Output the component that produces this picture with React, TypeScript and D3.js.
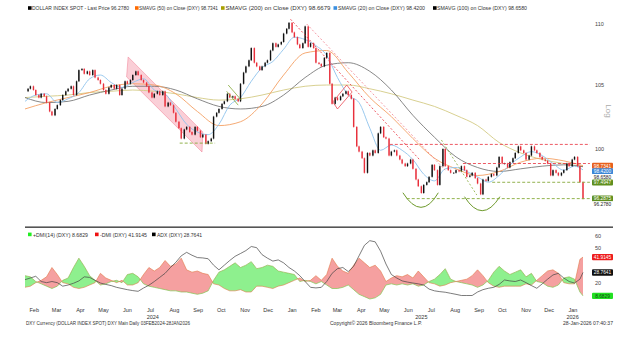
import React from 'react';
import * as d3 from 'd3';

// ---------- DATA ----------
const startDate = new Date(2024, 1, 3);
const endDate = new Date(2026, 0, 28);
const lineEnd = new Date(2026, 1, 6);

// DXY closes, sampled twice a week (every 3.5 days) from 03-Feb-2024
const closes = [
  104.5, 104.7, 104.9, 104.6, 104.2, 104.0, 104.3, 104.1, 103.6, 102.9,
  102.6, 103.1, 103.4, 103.8, 104.2, 104.5, 104.7, 104.9, 104.2, 105.3,
  106.2, 106.3, 105.9, 106.1, 105.8, 106.2, 105.6, 105.4, 105.1, 104.6,
  104.3, 104.8, 105.0, 104.7, 105.0, 104.2, 104.7, 105.3, 105.1, 105.4,
  105.8, 106.1, 105.8, 105.4, 105.2, 104.9, 104.4, 104.0, 104.3, 104.5,
  104.2, 104.5, 103.3, 103.6, 103.4, 102.8, 102.1, 101.6, 100.8, 101.5,
  101.7, 101.3, 101.1, 101.7, 101.4, 100.9, 101.1, 100.4, 100.6, 100.8,
  102.5, 102.8, 103.1, 103.5, 103.7, 104.3, 104.0, 104.1, 103.9, 103.7,
  105.1, 106.0, 106.5, 107.0, 108.0, 106.8, 106.5, 106.2, 106.5, 106.8,
  107.0, 107.8, 108.4, 108.1, 108.3, 108.5, 109.2, 109.6, 110.1, 109.3,
  108.9, 108.3, 108.0, 108.4, 109.8, 108.1, 108.4, 108.0, 106.8, 106.7,
  106.5, 107.2, 107.6, 105.1, 103.5, 104.0, 103.8, 104.1, 104.3, 104.5,
  104.2, 103.9, 101.7, 100.2, 99.8, 99.3, 98.2, 99.7, 99.5, 99.9,
  99.7, 101.2, 101.7, 100.9, 100.8, 99.5, 99.8, 99.9, 99.5, 99.2,
  98.9, 98.7, 98.9, 99.2, 98.5, 97.7, 97.2, 96.7, 97.3, 97.5,
  97.9, 98.8, 98.4, 97.3, 98.7, 100.0, 98.7, 98.4, 98.2, 98.2,
  98.4, 98.3, 98.7, 98.4, 97.9, 98.0, 98.2, 97.8, 97.4, 96.6,
  97.7, 97.6, 97.9, 98.1, 98.0, 98.6, 99.4, 98.9, 98.9, 98.6,
  99.0, 99.3, 99.7, 100.2, 99.9, 99.7, 99.2, 99.5, 100.2, 99.9,
  99.7, 99.4, 99.2, 99.1, 98.9, 98.0, 98.4, 98.2, 98.0, 98.2,
  98.4, 98.9, 98.7, 99.2, 99.4, 98.7, 97.5, 96.278,
];

// Moving averages (read every 28 days, last point 28-Jan-2026)
const sma200 = [104.0, 104.1, 104.2, 104.4, 104.5, 104.6, 104.5, 104.3, 104.0, 103.8, 103.9, 104.2, 104.6, 104.9, 105.0, 105.0, 104.7, 104.3, 103.8, 103.3, 102.6, 101.8, 100.5, 99.7, 99.2, 98.9, 98.6679];
const sma100 = [104.0, 103.6, 103.7, 104.2, 104.6, 104.9, 104.9, 104.6, 103.9, 103.3, 103.1, 103.3, 104.2, 105.6, 106.6, 106.8, 106.1, 104.6, 102.6, 100.9, 99.4, 98.6, 98.3, 98.5, 98.7, 98.8, 98.658];
const sma50 = [103.1, 103.6, 104.0, 104.4, 104.9, 105.1, 105.0, 104.3, 102.9, 101.8, 102.1, 103.5, 105.8, 107.6, 107.8, 106.0, 104.0, 102.5, 100.8, 99.3, 98.5, 98.0, 98.3, 99.0, 99.3, 99.1, 98.7341];
// SMA 20 (read every 14 days)
const sma20 = [103.7, 104.2, 104.3, 103.6, 103.9, 104.4, 105.5, 105.8, 105.2, 104.8, 105.2, 105.5, 104.6, 104.3, 103.1, 101.9, 101.3, 101.1, 101.9, 103.4, 104.0, 105.3, 106.4, 106.9, 107.9, 108.9, 108.7, 108.2, 107.4, 105.6, 104.2, 103.6, 101.6, 99.9, 100.3, 99.9, 99.2, 98.1, 97.6, 98.5, 98.6, 98.3, 97.9, 97.5, 98.0, 98.8, 99.4, 99.8, 99.5, 98.9, 98.4, 98.7, 98.42];

// DMI / ADX (weekly)
const plusDMI = [
  26, 25, 21, 19, 17, 15, 17, 22, 24, 33,
  41, 34, 26, 22, 18, 19, 21, 22, 20, 27,
  28, 25, 19, 17, 16, 15, 14, 13, 13, 12,
  12, 11, 10, 11, 13, 22, 29, 31, 34, 37,
  33, 35, 38, 32, 33, 35, 34, 30, 29, 28,
  27, 21, 22, 21, 19, 21, 18, 15, 15, 16,
  18, 14, 10, 8, 6, 7, 10, 18, 19, 18,
  19, 18, 19, 17, 18, 21, 23, 27, 32, 23,
  21, 20, 19, 18, 16, 18, 22, 29, 34, 30,
  27, 29, 31, 25, 28, 21, 20, 17, 16, 18,
  24, 25, 23, 12, 8.6829,
];
const minusDMI = [
  16, 17, 20, 22, 25, 33, 27, 20, 19, 16,
  15, 16, 18, 20, 28, 24, 22, 20, 22, 18,
  18, 20, 27, 33, 30, 33, 39, 34, 36, 41,
  31, 29, 30, 28, 27, 19, 18, 15, 13, 13,
  14, 12, 12, 17, 17, 16, 15, 17, 18, 20,
  22, 24, 21, 22, 26, 22, 27, 41, 34, 30,
  28, 35, 41, 37, 33, 35, 30, 21, 24, 26,
  25, 27, 24, 30, 25, 20, 19, 17, 18, 20,
  21, 22, 23, 26, 31, 26, 20, 17, 16, 17,
  17, 17, 17, 19, 18, 22, 26, 30, 31, 28,
  20, 19, 19, 40, 41.9145,
];
const adx = [
  22.6, 24, 25.5, 21, 20, 21, 20, 17, 18, 19.5,
  21.5, 25, 24.5, 22, 19.7, 18.5, 17.5, 16, 15, 14,
  13.2, 12.6, 15.4, 17.8, 21, 24.5, 28, 33, 37.5, 43,
  46, 43.5, 41.5, 41.2, 40.5, 35, 31, 35, 39, 42.6,
  45, 47.5, 51, 50, 44, 41, 38.5, 39.5, 37, 33,
  30, 26, 21, 16, 15.5, 16, 21, 28, 32, 33,
  29.5, 34, 43, 52, 56, 55, 47, 36, 27, 24,
  21.5, 20.5, 19.7, 19, 18, 14.5, 13, 12.3, 11.8, 10.9,
  10, 9, 9, 9, 12, 14, 15.2, 16, 18.5, 22.3,
  21.5, 21, 22.3, 20, 17.5, 15.2, 19, 23, 26.6, 28,
  24, 21, 19.7, 23, 28.7641,
];

const priceTicks = [100, 105, 110];
// 10, 30 and 40 are hidden behind the value boxes in the reference
const dmiTicks = [20, 50, 60];

const topLegend = [
  { color: '#000000', text: 'DOLLAR INDEX SPOT - Last Price 96.2780' },
  { color: '#ff6a00', text: 'SMAVG (50) on Close (DXY) 98.7341' },
  { color: '#a8a000', text: 'SMAVG (200) on Close (DXY) 98.6679' },
  { color: '#3b8fe0', text: 'SMAVG (20) on Close (DXY) 98.4200' },
  { color: '#000000', text: 'SMAVG (100) on Close (DXY) 98.6580' },
];
const lowLegend = [
  { color: '#22ee22', text: '+DMI(14) (DXY) 8.6829' },
  { color: '#ee1111', text: '-DMI (DXY) 41.9145' },
  { color: '#000000', text: 'ADX (DXY) 28.7641' },
];

// analyst drawings, in [date, value]
const pinkChannel: [string, number][] = [['2024-06-16', 107.27], ['2024-09-21', 101.31], ['2024-09-20', 99.77], ['2024-06-14', 105.65]];
const greenFlagA: [string, number][] = [['2024-10-24', 105.0], ['2024-11-10', 103.8]];
const greenFlagB: [string, number][] = [['2024-10-22', 104.5], ['2024-11-06', 103.4]];
const sepLow2024: [string, number][] = [['2024-08-22', 100.45], ['2024-10-07', 100.45]];
const redTrendA: [string, number][] = [['2025-01-13', 110.4], ['2025-06-30', 99.17]];
const redTrendB: [string, number][] = [['2025-02-03', 110.0], ['2025-08-02', 98.4]];
const redFlag: [string, number][] = [['2025-03-09', 103.65], ['2025-03-27', 105.0], ['2025-04-03', 104.44], ['2025-03-15', 103.1], ['2025-03-09', 103.65]];
const greenDown: [string, number][] = [['2025-07-28', 100.69], ['2025-09-12', 96.55]];
const arcs: [string, number][][] = [
  [['2025-06-08', 96.72], ['2025-07-02', 94.59], ['2025-07-24', 96.72]],
  [['2025-08-27', 96.43], ['2025-09-19', 94.39], ['2025-10-12', 96.43]],
];
const redLevels: [string, number][] = [['2025-05-22', 100.35], ['2025-08-25', 98.9]];
const greenLevels: [string, number][] = [['2025-10-02', 97.4947], ['2025-06-13', 96.2875]];

const priceBoxes = [
  { value: 98.7341, fill: '#e8601c', color: '#fff', text: '98.7341' },
  { value: 98.42, fill: '#3b86d6', color: '#fff', text: '98.4200' },
  { value: 98.658, fill: '#ffffff', color: '#222', text: '98.6580' },
  { value: 97.4947, fill: '#5f8f1e', color: '#fff', text: '97.4947' },
  { value: 96.2875, fill: '#5f8f1e', color: '#fff', text: '96.2875' },
  { value: 96.278, fill: '#ffffff', color: '#222', text: '96.2780' },
];
const dmiBoxes = [
  { value: 41.9145, fill: '#ee1c1c', color: '#fff', text: '41.9145' },
  { value: 28.7641, fill: '#111111', color: '#fff', text: '28.7641' },
  { value: 8.6829, fill: '#22e022', color: '#114411', text: '8.6829' },
];

// ---------- COMPONENT ----------
const parse = d3.timeParse('%Y-%m-%d');
const FONT = 'Liberation Sans, Arial, sans-serif';

export default function App() {
  const x = d3.scaleTime().domain([startDate, endDate]).range([25, 583]);
  const yP = d3.scaleLog().domain([100, 110]).range([149, 24]);
  const yD = d3.scaleLinear().domain([0, 60]).range([306, 236]);

  const priceDates = closes.map((_, i) => d3.timeDay.offset(startDate, Math.round(i * 3.5)));
  const d28 = [...d3.range(0, 701, 28), 725].map((d) => d3.timeDay.offset(startDate, d));
  const d14 = [...d3.range(0, 715, 14), 725].map((d) => d3.timeDay.offset(startDate, d));
  const d7 = [...d3.range(0, 722, 7), 725].map((d) => d3.timeDay.offset(startDate, d));

  const maPath = (dates: Date[], vals: number[]) =>
    d3.line<number>().x((_, i) => x(dates[i])).y((v) => yP(v)).curve(d3.curveMonotoneX)(vals) || '';

  const pt = (p: [string, number]) => [x(parse(p[0]) as Date), yP(p[1])] as [number, number];
  const polyPath = (pts: [string, number][]) => d3.line()(pts.map(pt)) || '';
  const arcPath = (a: [string, number][]) => {
    const [p0, c, p2] = a.map(pt);
    const path = d3.path();
    path.moveTo(p0[0], p0[1]);
    path.quadraticCurveTo(c[0], c[1], p2[0], p2[1]);
    return path.toString();
  };

  const dmi = d7.map((d, i) => ({ d, p: plusDMI[i], m: minusDMI[i], a: adx[i] }));
  type Dm = typeof dmi[number];
  const between = d3.area<Dm>().x((o) => x(o.d)).y0((o) => yD(o.p)).y1((o) => yD(o.m))(dmi) || '';
  const clipAbove = d3.area<Dm>().x((o) => x(o.d)).y0(229).y1((o) => yD(o.p))(dmi) || '';
  const clipBelow = d3.area<Dm>().x((o) => x(o.d)).y0((o) => yD(o.p)).y1(312)(dmi) || '';
  const dLine = (k: 'p' | 'm' | 'a') => d3.line<Dm>().x((o) => x(o.d)).y((o) => yD(o[k]))(dmi) || '';

  // month labels (centred mid-month) and year labels (centred on visible span)
  const months = d3.timeMonth.range(new Date(2024, 1, 1), new Date(2026, 1, 1));
  const years = [2024, 2025, 2026].map((yr) => {
    const a = yr === 2024 ? startDate : new Date(yr, 0, 1);
    const b = yr === 2026 ? endDate : new Date(yr, 11, 31);
    return { yr, cx: (x(a) + x(b)) / 2 };
  });

  // stack right-hand labels
  const stack = (items: { y: number }[], gap: number) => {
    let last = -Infinity;
    return items.map((it) => {
      const y = Math.max(it.y, last + gap);
      last = y;
      return y;
    });
  };
  const pbY = stack(priceBoxes.map((b) => ({ y: yP(b.value) })), 5.6);

  const topPos = [
    { sq: 28, tx: 32, len: 97 },
    { sq: 135, tx: 139, len: 79 },
    { sq: 221, tx: 225.5, len: 105 },
    { sq: 333.5, tx: 338, len: 87 },
    { sq: 433, tx: 437, len: 90 },
  ];
  const lowPos = [
    { sq: 28, tx: 33, len: 55 },
    { sq: 95, tx: 100, len: 47 },
    { sq: 152, tx: 157, len: 45 },
  ];

  const red = '#e8303c';
  const green = '#86a93a';

  return (
    <svg width={625} height={337} style={{ position: 'absolute', left: 0, top: 0, background: '#fff' }} fontFamily={FONT}>
      <defs>
        <clipPath id="clipAbove"><path d={clipAbove} /></clipPath>
        <clipPath id="clipBelow"><path d={clipBelow} /></clipPath>
      </defs>

      {/* top legend */}
      {topLegend.map((l, i) => (
        <g key={i}>
          <rect x={topPos[i].sq} y={6.2} width={3.6} height={3.6} fill={l.color} />
          <text x={topPos[i].tx} y={10} fontSize={5.2} fill="#333" textLength={topPos[i].len} lengthAdjust="spacingAndGlyphs">{l.text}</text>
        </g>
      ))}

      {/* price axis */}
      {priceTicks.map((t) => (
        <text key={t} x={595} y={yP(t) + 2} fontSize={5.5} fill="#444">{t}</text>
      ))}
      <text transform={`translate(606,111) rotate(90)`} fontSize={8} fill="#aaa" textAnchor="middle">Log</text>

      {/* annotations behind price */}
      <path d={polyPath(pinkChannel) + 'Z'} fill="#f6a7b7" fillOpacity={0.55} stroke="#f07a90" strokeWidth={0.5} />

      {/* moving averages */}
      <path d={maPath(d28, sma200)} fill="none" stroke="#d4cb84" strokeWidth={0.9} />
      <path d={maPath(d28, sma100)} fill="none" stroke="#6a6a6a" strokeWidth={0.8} />
      <path d={maPath(d28, sma50)} fill="none" stroke="#f4a064" strokeWidth={0.9} />
      <path d={maPath(d14, sma20)} fill="none" stroke="#8ec3ec" strokeWidth={0.9} />

      {/* candles */}
      {closes.map((c, i) => {
        if (i === 0) return null;
        const o = closes[i - 1];
        const y1 = yP(Math.max(o, c));
        const y2 = yP(Math.min(o, c));
        const cx = x(priceDates[i]);
        return (
          <g key={i}>
            <line x1={cx} x2={cx} y1={y1 - 0.8} y2={y2 + 0.8} stroke={c >= o ? '#111' : red} strokeWidth={0.5} />
            <rect x={cx - 0.7} y={y1} width={1.4} height={Math.max(0.7, y2 - y1)} fill={c >= o ? '#111' : red} />
          </g>
        );
      })}

      {/* drawings */}
      <path d={polyPath(sepLow2024)} stroke={green} strokeWidth={0.9} strokeDasharray="3,2" fill="none" />
      <path d={polyPath(greenFlagA)} stroke={green} strokeWidth={0.8} fill="none" />
      <path d={polyPath(greenFlagB)} stroke={green} strokeWidth={0.8} fill="none" />
      <path d={polyPath(redTrendA)} stroke={red} strokeWidth={0.8} strokeDasharray="2,2" fill="none" />
      <path d={polyPath(redTrendB)} stroke="#f07080" strokeWidth={0.7} strokeDasharray="2,2" fill="none" />
      <path d={polyPath(redFlag)} stroke={red} strokeWidth={0.7} fill="none" />
      <path d={polyPath(greenDown)} stroke={green} strokeWidth={0.8} strokeDasharray="2,2" fill="none" />
      {arcs.map((a, i) => (
        <path key={i} d={arcPath(a)} stroke="#6e9a2c" strokeWidth={1} fill="none" />
      ))}
      {redLevels.map((l, i) => (
        <line key={i} x1={x(parse(l[0]) as Date)} x2={x(lineEnd)} y1={yP(l[1])} y2={yP(l[1])} stroke={red} strokeWidth={0.8} strokeDasharray="3,2" />
      ))}
      {greenLevels.map((l, i) => (
        <line key={i} x1={x(parse(l[0]) as Date)} x2={x(lineEnd)} y1={yP(l[1])} y2={yP(l[1])} stroke={green} strokeWidth={0.9} strokeDasharray="3,2" />
      ))}

      {/* price right boxes */}
      {priceBoxes.map((b, i) => (
        <g key={i}>
          <rect x={592} y={pbY[i] - 3} width={21} height={6} rx={1} fill={b.fill} />
          <text x={602.5} y={pbY[i] + 1.8} fontSize={4.8} textAnchor="middle" fill={b.color}>{b.text}</text>
        </g>
      ))}

      {/* separator */}
      <rect x={25} y={226.4} width={588} height={1.6} fill="#555" />

      {/* lower legend */}
      {lowLegend.map((l, i) => (
        <g key={i}>
          <rect x={lowPos[i].sq} y={232.6} width={3.6} height={3.6} fill={l.color} />
          <text x={lowPos[i].tx} y={236.5} fontSize={5} fill="#333" textLength={lowPos[i].len} lengthAdjust="spacingAndGlyphs">{l.text}</text>
        </g>
      ))}

      {/* DMI panel */}
      <path d={between} fill="#f5a0a0" clipPath="url(#clipAbove)" />
      <path d={between} fill="#8ef08e" clipPath="url(#clipBelow)" />
      <path d={dLine('p')} fill="none" stroke="#7db43c" strokeWidth={0.6} />
      <path d={dLine('m')} fill="none" stroke="#e07848" strokeWidth={0.6} />
      <path d={dLine('a')} fill="none" stroke="#444" strokeWidth={0.7} />

      {dmiTicks.map((t) => (
        <text key={t} x={595} y={yD(t) + 2} fontSize={5.5} fill="#444">{t}</text>
      ))}
      {dmiBoxes.map((b, i) => (
        <g key={i}>
          <rect x={592} y={yD(b.value) - 3.2} width={21} height={6.4} rx={1} fill={b.fill} />
          <text x={602.5} y={yD(b.value) + 1.8} fontSize={4.8} textAnchor="middle" fill={b.color}>{b.text}</text>
        </g>
      ))}

      {/* x axis */}
      {months.map((m, i) => (
        <text key={i} x={x(d3.timeDay.offset(m, 14))} y={312} fontSize={5.5} fill="#333" textAnchor="middle">
          {d3.timeFormat('%b')(m)}
        </text>
      ))}
      {years.map((y) => (
        <text key={y.yr} x={y.cx} y={318.5} fontSize={5.5} fill="#333" textAnchor="middle">{y.yr}</text>
      ))}

      {/* footer */}
      <text x={26} y={325} fontSize={5} fill="#333" textLength={164} lengthAdjust="spacingAndGlyphs">DXY Currency (DOLLAR INDEX SPOT) DXY Main Daily 03FEB2024-28JAN2026</text>
      <text x={330} y={325} fontSize={5} fill="#333" textLength={92} lengthAdjust="spacingAndGlyphs">Copyright© 2026 Bloomberg Finance L.P.</text>
      <text x={563} y={325} fontSize={5} fill="#333" textLength={50} lengthAdjust="spacingAndGlyphs">28-Jan-2026 07:40:37</text>
    </svg>
  );
}
